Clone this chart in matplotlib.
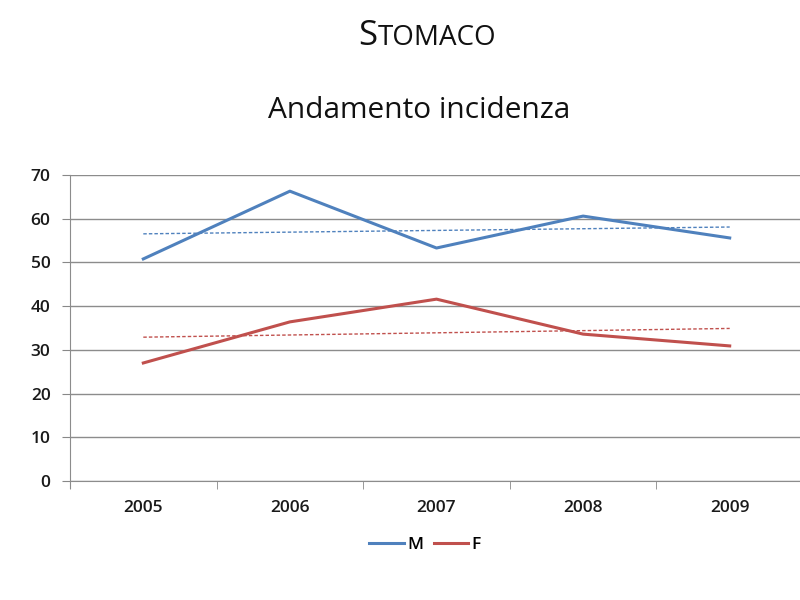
import numpy as np
import matplotlib.pyplot as plt

anni = ['2005', '2006', '2007', '2008', '2009']
maschi = [50.8, 66.3, 53.3, 60.6, 55.6]
femmine = [27.0, 36.4, 41.6, 33.6, 30.9]
yticks = [0, 10, 20, 30, 40, 50, 60, 70]

blu = '#4F81BD'
rosso = '#C0504D'

plt.rcParams['font.family'] = ['Open Sans', 'DejaVu Sans']

fig = plt.figure(figsize=(8, 6), dpi=100)
ax = fig.add_axes([70 / 800, 119 / 600, 733 / 800, 306 / 600])

x = np.arange(len(anni))
ax.plot(x, maschi, color=blu, lw=2.2, label='M')
ax.plot(x, femmine, color=rosso, lw=2.2, label='F')

# linee di tendenza (regressione lineare come in Excel)
for serie, col in [(maschi, blu), (femmine, rosso)]:
    p = np.polyfit(x, serie, 1)
    ax.plot(x, np.polyval(p, x), color=col, lw=1.0, ls=(0, (2.5, 1.5)))

ax.set_xlim(-0.5, 4.5)
ax.set_ylim(0, 70)
ax.set_yticks(yticks)
ax.set_xticks(x)
ax.set_xticklabels(anni)
ax.set_xticks(np.arange(-0.5, 5, 1), minor=True)
ax.tick_params(axis='x', which='major', length=0, pad=14, labelsize=12.5)
ax.tick_params(axis='x', which='minor', length=6, color='#888888', direction='out')
ax.tick_params(axis='y', length=6, color='#888888', labelsize=12.5, pad=8)
for lab in ax.get_xticklabels() + ax.get_yticklabels():
    lab.set_fontweight('semibold')
    lab.set_color('#1a1a1a')
ax.grid(True, axis='y', color='#8c8c8c', lw=1)
ax.set_axisbelow(True)
for s in ['top', 'right']:
    ax.spines[s].set_visible(False)
ax.spines['left'].set_color('#8c8c8c')
ax.spines['bottom'].set_color('#8c8c8c')
ax.spines['left'].set_bounds(-1.5, 70)

# titolo in maiuscoletto
fig.canvas.draw()
r = fig.canvas.get_renderer()
t1 = fig.text(0, 1 - 45 / 600, 'S', fontsize=25, va='baseline', color='#111111')
t2 = fig.text(0, 1 - 45 / 600, 'TOMACO', fontsize=20, va='baseline', color='#111111')
w1 = t1.get_window_extent(r).width / 800
w2 = t2.get_window_extent(r).width / 800
x0 = 427 / 800 - (w1 + w2) / 2
t1.set_x(x0)
t2.set_x(x0 + w1)

fig.text(419 / 800, 1 - 110 / 600, 'Andamento incidenza', fontsize=21.5,
         ha='center', va='center', color='#111111')

leg = fig.legend(loc='center', bbox_to_anchor=(425 / 800, 1 - 545 / 600), ncol=2,
                 frameon=False, fontsize=12.5, handlelength=2, handletextpad=0.2,
                 columnspacing=0.6)
for t in leg.get_texts():
    t.set_fontweight('semibold')

fig.savefig('out.png', dpi=100)
